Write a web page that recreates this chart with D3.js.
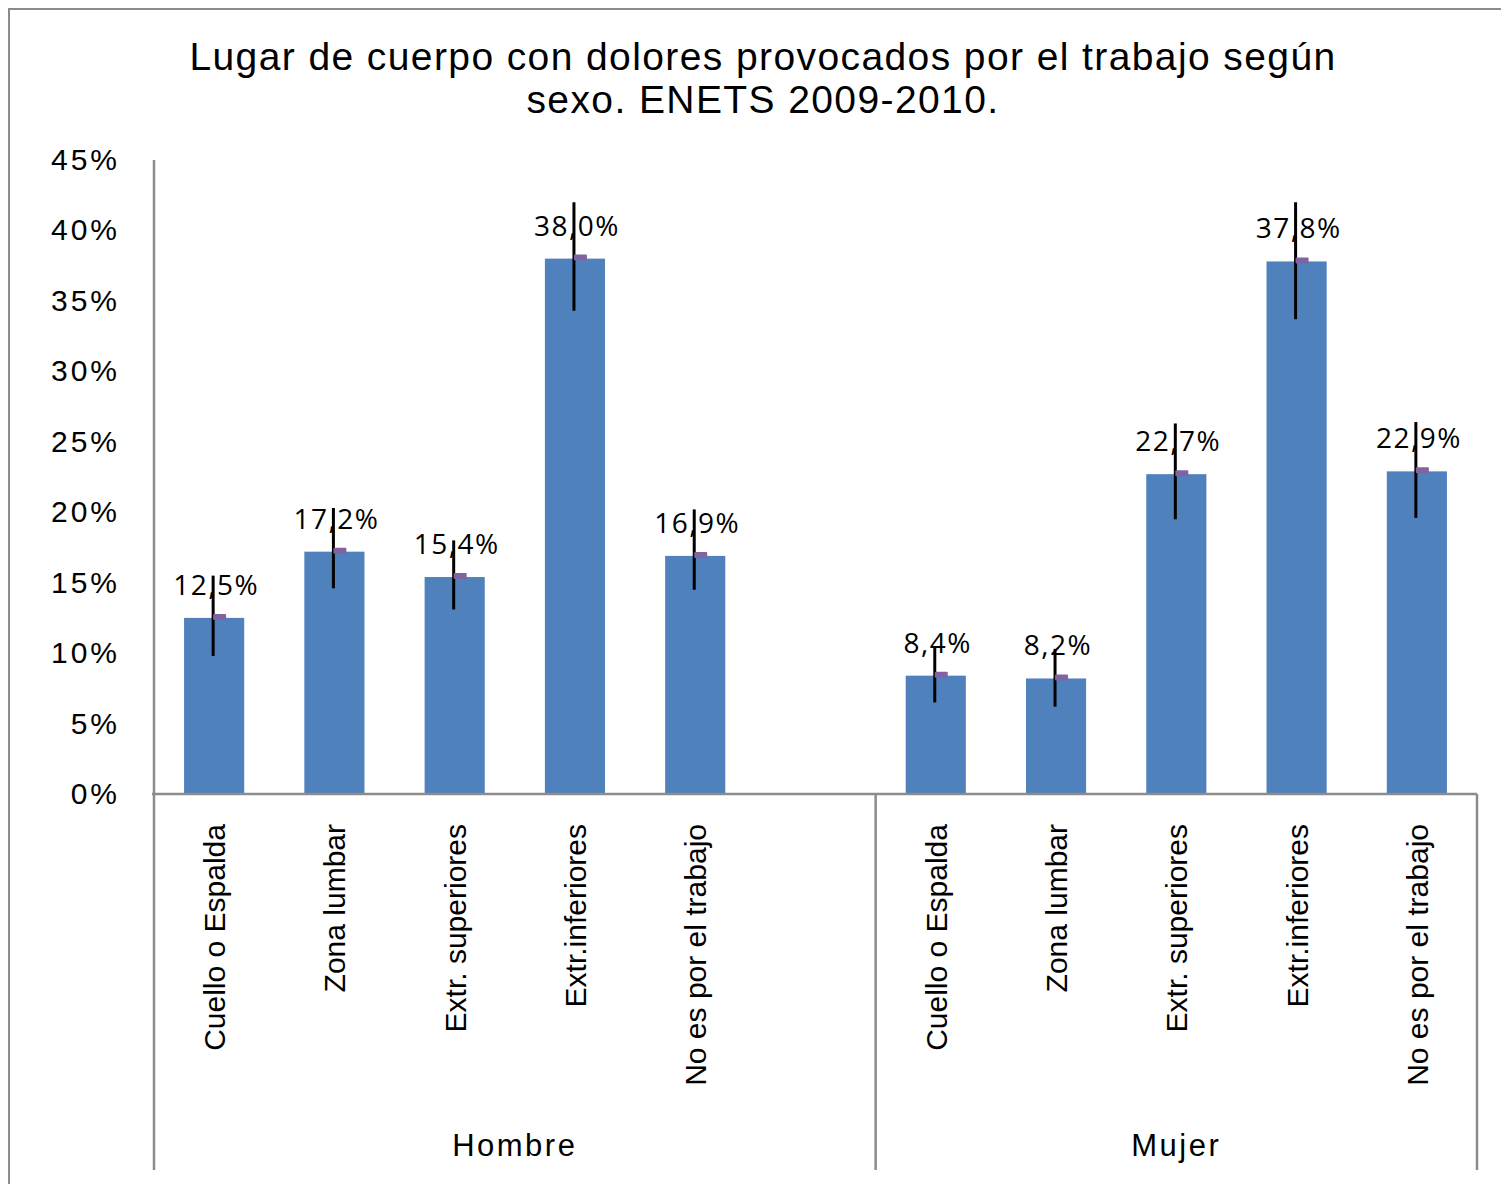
<!DOCTYPE html>
<html lang="es">
<head>
	<meta charset="utf-8">
	<title>Lugar de cuerpo con dolores</title>
	<script src="https://d3js.org/d3.v7.min.js"></script>
	<style>
		body { margin: 0; background: #fff; }
		svg text { font-family: "Liberation Sans", Arial, sans-serif; fill: #000; }
	</style>
</head>
<body>
<script>
	// categories shown under each sex
	var categories = ["Cuello o Espalda", "Zona lumbar", "Extr. superiores", "Extr.inferiores", "No es por el trabajo"];
	var groups = ["Hombre", "Mujer"];
	// percentages
	var hombre = [12.5, 17.2, 15.4, 38.0, 16.9];
	var mujer = [8.4, 8.2, 22.7, 37.8, 22.9];
	// error bar ends (low, high) in %
	var hombreLow = [9.8, 14.6, 13.1, 34.3, 14.5];
	var hombreHigh = [15.5, 20.3, 18.0, 42.0, 20.2];
	var mujerLow = [6.5, 6.2, 19.5, 33.7, 19.6];
	var mujerHigh = [10.4, 10.3, 26.3, 42.0, 26.4];
	var yTicks = [0, 5, 10, 15, 20, 25, 30, 35, 40, 45];

	var w = 1501, h = 1184;
	// note: "top" is taken by window.top, so plotTop
	var left = 154, right = 1477, plotTop = 160, base = 794, bottom = 1170;

	// build rows; Hombre gets an empty extra slot at the end like the original
	var rows = [];
	categories.forEach(function(c, i) {
		rows.push({key: "H" + i, cat: c, val: hombre[i], lo: hombreLow[i], hi: hombreHigh[i]});
	});
	var slots = rows.map(function(d) { return d.key; });
	slots.push("Hgap");
	categories.forEach(function(c, i) {
		rows.push({key: "M" + i, cat: c, val: mujer[i], lo: mujerLow[i], hi: mujerHigh[i]});
		slots.push("M" + i);
	});

	var x = d3.scaleBand().domain(slots).range([left, right]).paddingInner(0.5).paddingOuter(0.25);
	var y = d3.scaleLinear().domain([0, 45]).range([base, plotTop]);

	var svg = d3.select("body").append("svg").attr("width", w).attr("height", h);

	// outer chart frame
	svg.append("rect")
		.attr("x", 9).attr("y", 9).attr("width", w + 20).attr("height", h + 20)
		.attr("fill", "none").attr("stroke", "#8c8c8c").attr("stroke-width", 2);

	// title
	var title = svg.append("text").attr("text-anchor", "middle")
		.style("font-size", "39px").style("letter-spacing", "1.4px");
	title.append("tspan").attr("x", 763).attr("y", 70).text("Lugar de cuerpo con dolores provocados por el trabajo según");
	title.append("tspan").attr("x", 763).attr("y", 113).text("sexo. ENETS 2009-2010.");

	// y tick labels
	svg.selectAll(".ytick").data(yTicks).enter().append("text")
		.attr("class", "ytick")
		.attr("x", 120)
		.attr("y", function(d) { return y(d) + 10; })
		.attr("text-anchor", "end")
		.style("font-size", "30px")
		.style("letter-spacing", "3px")
		.text(function(d) { return d + "%"; });

	// bars
	svg.selectAll(".bar").data(rows).enter().append("rect")
		.attr("class", "bar")
		.attr("x", function(d) { return x(d.key); })
		.attr("y", function(d) { return y(d.val); })
		.attr("width", x.bandwidth())
		.attr("height", function(d) { return base - y(d.val); })
		.attr("fill", "#4f81bd");

	// error bars
	svg.selectAll(".err").data(rows).enter().append("line")
		.attr("class", "err")
		.attr("x1", function(d) { return x(d.key) + x.bandwidth() / 2 - 1; })
		.attr("x2", function(d) { return x(d.key) + x.bandwidth() / 2 - 1; })
		.attr("y1", function(d) { return y(d.hi); })
		.attr("y2", function(d) { return y(d.lo); })
		.attr("stroke", "#000").attr("stroke-width", 3);

	// small purple marker at value
	svg.selectAll(".mark").data(rows).enter().append("rect")
		.attr("class", "mark")
		.attr("x", function(d) { return x(d.key) + x.bandwidth() / 2 - 1; })
		.attr("y", function(d) { return y(d.val) - 4; })
		.attr("width", 13).attr("height", 6)
		.attr("rx", 1)
		.attr("fill", "#8064a2");

	// value labels
	svg.selectAll(".val").data(rows).enter().append("text")
		.attr("class", "val")
		.attr("x", function(d) { return x(d.key) + x.bandwidth() / 2 + 2; })
		.attr("y", function(d) { return y(d.val) - 23; })
		.attr("text-anchor", "middle")
		.style("font-size", "28px")
		.style("letter-spacing", "1.5px")
		.style("font-family", "'Open Sans', sans-serif")
		.text(function(d) { return d.val.toFixed(1).replace(".", ",") + "%"; });

	// axes
	svg.append("line").attr("x1", left).attr("x2", left).attr("y1", plotTop).attr("y2", bottom)
		.attr("stroke", "#8c8c8c").attr("stroke-width", 2.5);
	svg.append("line").attr("x1", left - 2).attr("x2", right).attr("y1", base).attr("y2", base)
		.attr("stroke", "#8c8c8c").attr("stroke-width", 2.5);
	var groupEdges = [x("Hgap") + x.step() * 0.75, right];
	svg.selectAll(".gdiv").data(groupEdges).enter().append("line")
		.attr("class", "gdiv")
		.attr("x1", function(d) { return d; }).attr("x2", function(d) { return d; })
		.attr("y1", base).attr("y2", bottom)
		.attr("stroke", "#8c8c8c").attr("stroke-width", 2.5);

	// rotated category labels
	svg.selectAll(".cat").data(rows).enter().append("text")
		.attr("class", "cat")
		.attr("transform", function(d) {
			return "translate(" + (x(d.key) + x.bandwidth() / 2 + 11) + "," + (base + 30) + ") rotate(-90)";
		})
		.attr("text-anchor", "end")
		.style("font-size", "30px")
		.text(function(d) { return d.cat; });

	// group labels
	var groupMid = [(left + groupEdges[0]) / 2, (groupEdges[0] + right) / 2];
	svg.selectAll(".grp").data(groups).enter().append("text")
		.attr("class", "grp")
		.attr("x", function(d, i) { return groupMid[i]; })
		.attr("y", 1156)
		.attr("text-anchor", "middle")
		.style("font-size", "31px")
		.style("letter-spacing", "2.5px")
		.text(function(d) { return d; });
</script>
</body>
</html>
